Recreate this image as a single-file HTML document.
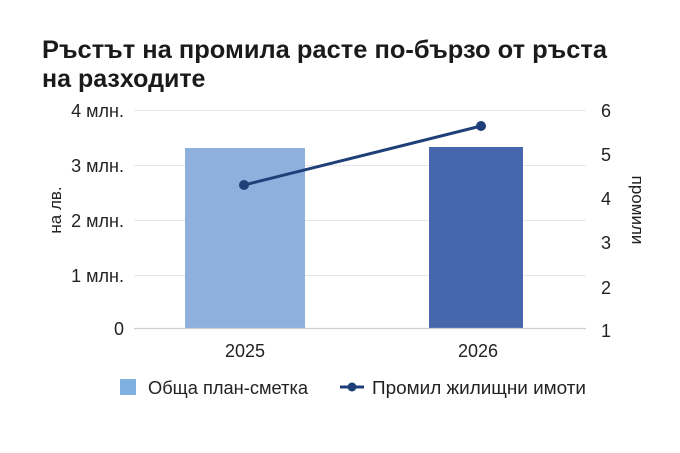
<!DOCTYPE html>
<html><head><meta charset="utf-8"><style>
html,body{margin:0;padding:0;background:#fff;width:680px;height:453px;overflow:hidden}
svg{display:block}
text{font-family:"Liberation Sans",sans-serif;fill:#222}
.t{font-family:"Liberation Sans",sans-serif;font-weight:bold;font-size:25px;fill:#1a1a1a}
</style></head><body>
<svg width="680" height="453" viewBox="0 0 680 453">
<text class="t" x="42" y="58" textLength="565" lengthAdjust="spacingAndGlyphs">Ръстът на промила расте по-бързо от ръста</text>
<text class="t" x="42" y="87">на разходите</text>
<g stroke="#e6e6e6" stroke-width="1">
<line x1="134" y1="110.5" x2="586" y2="110.5"/>
<line x1="134" y1="165.5" x2="586" y2="165.5"/>
<line x1="134" y1="220.5" x2="586" y2="220.5"/>
<line x1="134" y1="275.5" x2="586" y2="275.5"/>
</g>
<rect x="185" y="148" width="120" height="180" fill="#8db0dc"/>
<rect x="429" y="147" width="94" height="181" fill="#4767ad"/>
<line x1="134" y1="328.5" x2="586" y2="328.5" stroke="#cfcfcf" stroke-width="1.2"/>
<g font-size="18" text-anchor="end">
<text x="124" y="117">4 млн.</text>
<text x="124" y="172">3 млн.</text>
<text x="124" y="227">2 млн.</text>
<text x="124" y="282">1 млн.</text>
<text x="124" y="335">0</text>
</g>
<g font-size="18" text-anchor="middle">
<text x="606" y="117">6</text>
<text x="606" y="161">5</text>
<text x="606" y="205">4</text>
<text x="606" y="249">3</text>
<text x="606" y="294">2</text>
<text x="606" y="337">1</text>
<text x="245" y="357">2025</text>
<text x="478" y="357">2026</text>
</g>
<text font-size="17" text-anchor="middle" transform="translate(61,210) rotate(-90)">на лв.</text>
<text font-size="17" text-anchor="middle" transform="translate(632,210) rotate(90)">промили</text>
<line x1="244" y1="185" x2="481" y2="126" stroke="#1f3f78" stroke-width="3"/>
<circle cx="244" cy="185" r="5" fill="#1f3f78"/>
<circle cx="481" cy="126" r="5" fill="#1f3f78"/>
<rect x="120" y="379" width="16" height="16" fill="#7fb0df"/>
<text x="148" y="394" font-size="18" textLength="160" lengthAdjust="spacingAndGlyphs">Обща план-сметка</text>
<line x1="340" y1="387" x2="364" y2="387" stroke="#1f3f78" stroke-width="3"/>
<circle cx="352" cy="387" r="4.5" fill="#1f3f78"/>
<text x="372" y="394" font-size="18" textLength="214" lengthAdjust="spacingAndGlyphs">Промил жилищни имоти</text>
</svg>
</body></html>
